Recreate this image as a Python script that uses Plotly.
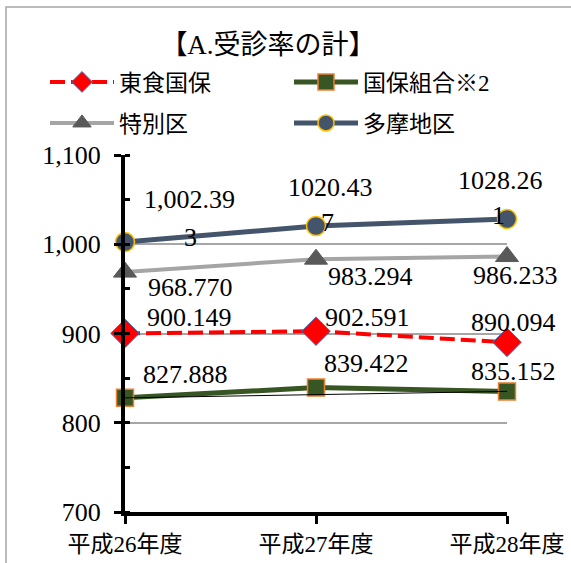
import plotly.graph_objects as go

# Fiscal years on the category axis
years = ["平成26年度", "平成27年度", "平成28年度"]

# Consultation rates per series
toshoku = [900.149, 902.591, 890.094]        # 東食国保
kumiai = [827.888, 839.422, 835.152]         # 国保組合※2
tokubetsu = [968.770, 983.294, 986.233]      # 特別区
tama = [1002.393, 1020.437, 1028.261]        # 多摩地区

# Data label text (多摩地区 labels wrap onto a second line)
toshoku_labels = ["900.149", "902.591", "890.094"]
kumiai_labels = ["827.888", "839.422", "835.152"]
tokubetsu_labels = ["968.770", "983.294", "986.233"]
tama_labels_head = ["1,002.39", "1020.43", "1028.26"]
tama_labels_tail = ["3", "7", "1"]

y_ticks = [700, 800, 900, 1000, 1100]

FONT = "Liberation Serif, Noto Sans CJK JP, serif"

fig = go.Figure()

fig.add_trace(go.Scatter(
    x=years, y=toshoku, name="東食国保", mode="lines+markers",
    line=dict(color="#FF0000", width=4, dash="15px,6px"),
    marker=dict(symbol="diamond", size=22, color="#FF0000",
                line=dict(color="#4472C4", width=1)),
    cliponaxis=False, legend="legend",
))
fig.add_trace(go.Scatter(
    x=years, y=kumiai, name="国保組合※2", mode="lines+markers",
    line=dict(color="#375623", width=5),
    marker=dict(symbol="square", size=17, color="#375623",
                line=dict(color="#ED7D31", width=1.5)),
    cliponaxis=False, legend="legend",
))
# thin connector between the first and last 国保組合 points
fig.add_trace(go.Scatter(
    x=[years[0], years[-1]], y=[kumiai[0], kumiai[-1]], mode="lines",
    line=dict(color="#000000", width=1), showlegend=False, hoverinfo="skip",
    cliponaxis=False,
))
fig.add_trace(go.Scatter(
    x=years, y=tokubetsu, name="特別区", mode="lines+markers",
    line=dict(color="#A5A5A5", width=4),
    marker=dict(symbol="triangle-up", size=20, color="#595959",
                line=dict(color="#595959", width=1)),
    cliponaxis=False, legend="legend2",
))
fig.add_trace(go.Scatter(
    x=years, y=tama, name="多摩地区", mode="lines+markers",
    line=dict(color="#44546A", width=5),
    marker=dict(symbol="circle", size=19, color="#44546A",
                line=dict(color="#FFC000", width=1.5)),
    cliponaxis=False, legend="legend2",
))

# data labels: (values, texts, x offsets, y offsets) in pixels
label_sets = [
    (toshoku, toshoku_labels, [64, 51, 6], [-16, -14, -20]),
    (kumiai, kumiai_labels, [60, 50, 6], [-23, -24, -20]),
    (tokubetsu, tokubetsu_labels, [65, 54, 8], [15, 17, 19]),
    (tama, tama_labels_head, [64, 14, -7], [-43, -39, -39]),
    (tama, tama_labels_tail, [65, 11, -9], [-5, -4, -4]),
]
for vals, texts, dxs, dys in label_sets:
    for yr, v, t, dx, dy in zip(years, vals, texts, dxs, dys):
        fig.add_annotation(
            x=yr, y=v, text=t, showarrow=False,
            xshift=dx, yshift=-dy,
            font=dict(family=FONT, size=26, color="#000000"),
        )

# outer chart border (left and top edges visible)
fig.add_shape(
    type="rect", xref="paper", yref="paper",
    x0=-0.3115, x1=1.3, y0=-0.3, y1=1.4146,
    line=dict(color="#A6A6A6", width=1.5), layer="below",
)

legend_common = dict(
    orientation="h", xanchor="left", yanchor="middle",
    entrywidth=165, entrywidthmode="pixels", itemwidth=64,
    font=dict(family=FONT, size=23), bgcolor="rgba(0,0,0,0)",
    traceorder="normal",
)

fig.update_layout(
    width=571, height=563, autosize=False,
    margin=dict(l=125, r=64, t=155, b=51, autoexpand=False),
    paper_bgcolor="#FFFFFF", plot_bgcolor="#FFFFFF",
    font=dict(family=FONT, size=23, color="#000000"),
    title=dict(
        text="【A.受診率の計】", x=268 / 571, xanchor="center",
        y=1 - 45 / 563, yanchor="middle",
        font=dict(family=FONT, size=27, color="#000000"),
    ),
    showlegend=True,
    legend=dict(x=(45 - 125) / 382, y=(512 - 82) / 357, **legend_common),
    legend2=dict(x=(45 - 125) / 382, y=(512 - 123) / 357, **legend_common),
    xaxis=dict(
        type="category", range=[0, 2], automargin=False,
        showline=True, linecolor="#000000", linewidth=4,
        ticks="outside", ticklen=8, tickwidth=3, tickcolor="#000000",
        showgrid=False, zeroline=False,
        tickfont=dict(family=FONT, size=23),
    ),
    yaxis=dict(
        range=[700, 1100], tickvals=y_ticks, tickformat=",d",
        automargin=False,
        showline=True, linecolor="#000000", linewidth=4,
        ticks="outside", ticklen=7, tickwidth=3, tickcolor="#000000",
        ticklabelstandoff=8,
        minor=dict(dtick=50, ticks="inside", ticklen=5, tickwidth=3,
                   tickcolor="#000000", showgrid=False),
        showgrid=True, gridcolor="#A6A6A6", gridwidth=1.5,
        zeroline=False,
        tickfont=dict(family=FONT, size=26),
    ),
)

fig.write_html("out.html")
